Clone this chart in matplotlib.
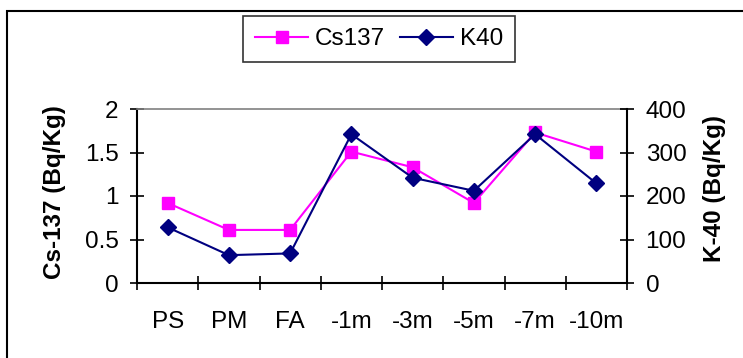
import matplotlib
matplotlib.use("Agg")
import matplotlib.pyplot as plt
from matplotlib.patches import Rectangle

# Sampling sites and measured activity concentrations
categories = ["PS", "PM", "FA", "-1m", "-3m", "-5m", "-7m", "-10m"]
cs137 = [0.92, 0.61, 0.61, 1.51, 1.33, 0.92, 1.73, 1.51]   # Bq/Kg
k40 = [128, 64, 68, 342, 242, 212, 342, 229]               # Bq/Kg
cs_ticks = [0, 0.5, 1, 1.5, 2]
cs_tick_labels = ["0", "0.5", "1", "1.5", "2"]
k_ticks = [0, 100, 200, 300, 400]

W, H, DPI = 743, 358, 100
plt.rcParams['font.family'] = ['Liberation Sans', 'DejaVu Sans']
FS = 17.5

fig = plt.figure(figsize=(W / DPI, H / DPI), dpi=DPI)
ax = fig.add_axes([137 / W, 1 - 283 / H, 490 / W, 174 / H])
ax2 = ax.twinx()

x = list(range(len(categories)))
l1, = ax.plot(x, cs137, color='#FF00FF', marker='s', markersize=8.5, lw=1.5,
              label='Cs137', clip_on=False)
l2, = ax2.plot(x, k40, color='#000080', marker='D', markersize=8, lw=1.5,
               label='K40', clip_on=False)

ax.set_xlim(-0.5, len(categories) - 0.5)
ax.set_ylim(0, 2)
ax2.set_ylim(0, 400)
ax.set_yticks(cs_ticks)
ax.set_yticklabels(cs_tick_labels)
ax2.set_yticks(k_ticks)
ax.set_xticks(x)
ax.set_xticklabels(categories)
ax.set_xticks([i - 0.5 for i in range(len(categories) + 1)], minor=True)

ax.tick_params(axis='x', which='major', length=0, pad=20, labelsize=FS)
ax.tick_params(axis='x', which='minor', direction='inout', length=10, width=1.2, color='black')
ax.tick_params(axis='y', direction='inout', length=10, width=1.2, pad=8.4, labelsize=FS)
ax2.tick_params(axis='y', direction='inout', length=10, width=1.2, pad=8.4, labelsize=FS)

for s in ('left', 'bottom'):
    ax.spines[s].set_linewidth(1.5)
    ax.spines[s].set_color('black')
ax.spines['right'].set_visible(False)
ax.spines['top'].set_color('#808080')
ax.spines['top'].set_linewidth(1.2)
for s in ('left', 'bottom', 'top'):
    ax2.spines[s].set_visible(False)
ax2.spines['right'].set_linewidth(1.5)

fig.text(55 / W, 1 - 192 / H, 'Cs-137 (Bq/Kg)', rotation=90, ha='center', va='center',
         fontsize=FS, fontweight='bold')
fig.text(714 / W, 1 - 189 / H, 'K-40 (Bq/Kg)', rotation=90, ha='center', va='center',
         fontsize=FS, fontweight='bold')

leg = fig.legend(handles=[l1, l2], loc='center', bbox_to_anchor=(378.9 / W, 1 - 39 / H),
                 ncol=2, frameon=True, fancybox=False, edgecolor='black', fontsize=FS,
                 handlelength=2.2, handletextpad=0.27, columnspacing=0.6,
                 borderpad=0.5, borderaxespad=0, numpoints=1)
leg.get_frame().set_linewidth(1.2)

# Outer chart border (continues past the right and bottom edges)
fig.add_artist(Rectangle((7.5 / W, -0.1), 1.2, 1 - 10.5 / H + 0.1,
                         transform=fig.transFigure, fill=False, lw=1.5,
                         ec='black', clip_on=False))

fig.savefig('out.png', dpi=DPI)
